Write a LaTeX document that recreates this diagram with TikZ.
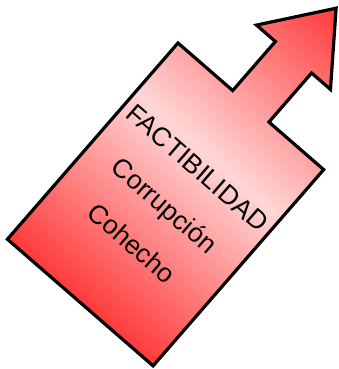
\documentclass[tikz,border=0pt]{standalone}
\usepackage{fontspec}
\setmainfont{Liberation Sans}
\usepackage{tikz}
\usetikzlibrary{positioning}
\definecolor{factred}{RGB}{255,58,58}
\definecolor{factlight}{RGB}{255,214,214}
\tikzset{
  arrowbox/.style = {draw=black, line width=3.2pt, line join=miter, top color=factred, bottom color=factred, middle color=factlight},
  boxtext/.style  = {align=center, inner sep=0pt, font=\fontsize{26.5}{50}\selectfont},
}

\begin{document}
\begin{tikzpicture}[x=1pt, y=1pt]
  \useasboundingbox (0,0) rectangle (338,369);
  \begin{scope}[transform canvas={shift={(178,326)}, rotate=-41}]
    % box with the arrow on its top side
    \draw[arrowbox] (0,0) -- (72.5,0) -- (72.5,65) -- (47.5,65) -- (96.5,130)
      -- (145.5,65) -- (120.5,65) -- (120.5,0) -- (193,0) -- (193,-260)
      -- (0,-260) -- cycle;
    \node[boxtext] (labels) at (96.5,-131.5) {FACTIBILIDAD\\Corrupción\\Cohecho};
  \end{scope}
\end{tikzpicture}
\end{document}
